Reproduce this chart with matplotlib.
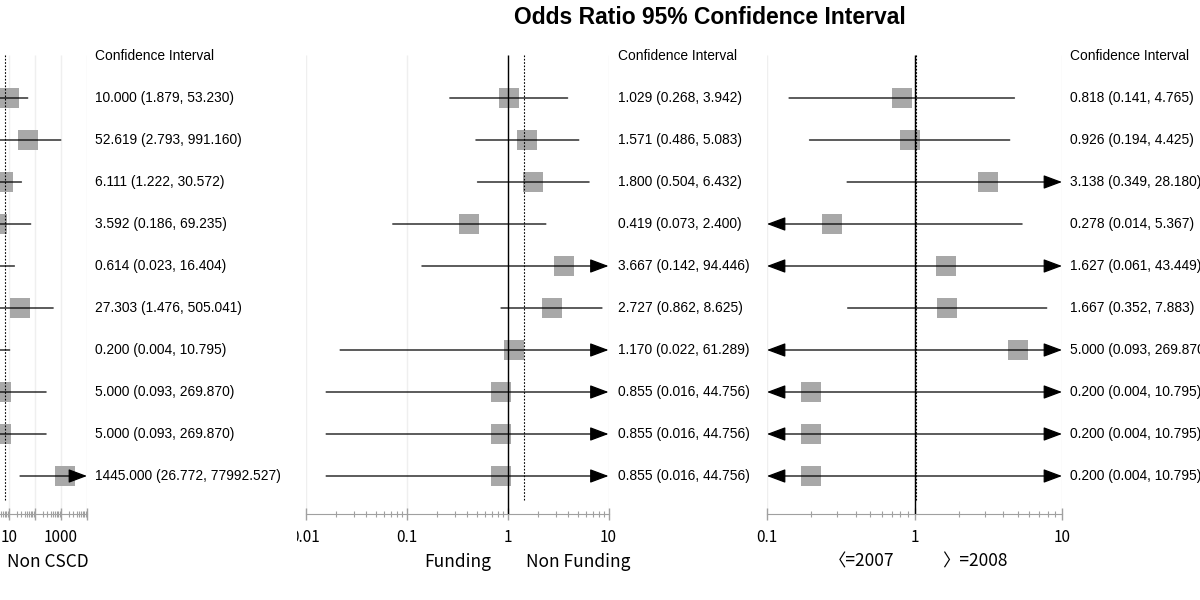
import matplotlib
matplotlib.use("Agg")
import numpy as np
import matplotlib.pyplot as plt
import matplotlib.transforms as mtransforms
from matplotlib.ticker import LogLocator
from matplotlib.transforms import Bbox

# ---- data (odds ratio, lower, upper) per panel ----
or_cscd = [10.000, 52.619, 6.111, 3.592, 0.614, 27.303, 0.200, 5.000, 5.000, 1445.000]
lo_cscd = [1.879, 2.793, 1.222, 0.186, 0.023, 1.476, 0.004, 0.093, 0.093, 26.772]
hi_cscd = [53.230, 991.160, 30.572, 69.235, 16.404, 505.041, 10.795, 269.870, 269.870, 77992.527]

or_fund = [1.029, 1.571, 1.800, 0.419, 3.667, 2.727, 1.170, 0.855, 0.855, 0.855]
lo_fund = [0.268, 0.486, 0.504, 0.073, 0.142, 0.862, 0.022, 0.016, 0.016, 0.016]
hi_fund = [3.942, 5.083, 6.432, 2.400, 94.446, 8.625, 61.289, 44.756, 44.756, 44.756]

or_year = [0.818, 0.926, 3.138, 0.278, 1.627, 1.667, 5.000, 0.200, 0.200, 0.200]
lo_year = [0.141, 0.194, 0.349, 0.014, 0.061, 0.352, 0.093, 0.004, 0.004, 0.004]
hi_year = [4.765, 4.425, 28.180, 5.367, 43.449, 7.883, 269.870, 10.795, 10.795, 10.795]

pooled = [7.0, 1.47, 1.03]          # dotted summary lines
xlims = [(1e-7, 1e4), (0.01, 10), (0.1, 10)]
tick_vals = [[10.0 ** k for k in range(-7, 5)], [0.01, 0.1, 1, 10], [0.1, 1, 10]]
tick_labels = [["", "", "", "", "", "", "", "", "10", "", "1000", ""],
               ["0.01", "0.1", "1", "10"],
               ["0.1", "1", "10"]]
group_labels = [("Non CSCD",), ("Funding", "Non Funding"), ("〈=2007", "〉=2008")]

# ---- layout (pixels on a 1200x600 canvas) ----
W, H = 1200, 600
panel_px = [(-199.5, 87), (305.5, 608.5), (767, 1062)]
text_px = [95, 618, 1070]
group_px = [(48,), (458, 578), (862, 975)]
row0, step = 98, 42
top_px, axis_px = 40, 514

plt.rcParams["font.family"] = ["Liberation Sans", "DejaVu Sans"]
lab_font = ["Noto Sans CJK SC", "DejaVu Sans"]

fig = plt.figure(figsize=(12, 6), dpi=100)
fig.text(710 / W, 1 - 17 / H, "Odds Ratio 95% Confidence Interval", ha="center", va="center",
         fontsize=16.5, fontweight="bold")

panels = [(or_cscd, lo_cscd, hi_cscd), (or_fund, lo_fund, hi_fund), (or_year, lo_year, hi_year)]
n = len(or_cscd)
y_top = (top_px - row0) / step
y_bot = (axis_px - row0) / step

for i, (ors, los, his) in enumerate(panels):
    x0, x1 = panel_px[i]
    ax = fig.add_axes([x0 / W, 1 - axis_px / H, (x1 - x0) / W, (axis_px - top_px) / H])
    ax.set_xscale("log")
    ax.set_xlim(*xlims[i])
    ax.set_ylim(y_bot, y_top)
    ax.patch.set_alpha(0)
    for s in ["top", "left", "right"]:
        ax.spines[s].set_visible(False)
    ax.spines["bottom"].set_color("#a0a0a0")
    ax.set_yticks([])

    ax.set_xticks(tick_vals[i])
    ax.set_xticklabels(tick_labels[i], family=lab_font, fontsize=11)
    ax.xaxis.set_minor_locator(LogLocator(base=10, subs=np.arange(2, 10), numticks=100))
    ax.xaxis.set_minor_formatter(plt.NullFormatter())
    ax.tick_params(axis="x", which="major", direction="inout", length=9, width=1,
                   color="#a0a0a0", pad=6)
    ax.tick_params(axis="x", which="minor", direction="inout", length=4.5, width=0.8,
                   color="#a0a0a0")

    # faint grid at decades, reference lines
    lo_lim, hi_lim = xlims[i]
    for t in tick_vals[i]:
        ax.vlines(t, -1.03, y_bot - 0.1, color="#efefef", lw=1, zorder=0)
    ax.vlines(1, -1.03, y_bot, color="black", lw=1, zorder=3)
    ax.vlines(pooled[i], -1.03, 9.6, color="black", lw=0.8, linestyles=(0, (1.5, 1.5)), zorder=3)

    rows = list(range(n))
    ax.scatter(ors, rows, marker="s", s=207, color="#a8a8a8", linewidths=0, zorder=2, clip_on=False)
    for r in rows:
        a = max(los[r], lo_lim)
        b = min(his[r], hi_lim)
        style = {(False, False): "-", (False, True): "-|>", (True, False): "<|-",
                 (True, True): "<|-|>"}[(los[r] < lo_lim, his[r] > hi_lim)]
        if style != "-":
            style += ",head_length=1.15,head_width=0.43"
        ax.annotate("", xy=(b, r), xytext=(a, r),
                    arrowprops=dict(arrowstyle=style, mutation_scale=10, shrinkA=0, shrinkB=0,
                                    lw=0.9, color="black"), zorder=4)

    # confidence interval column
    tr = mtransforms.blended_transform_factory(fig.transFigure, ax.transData)
    ax.text(text_px[i] / W, -1, "Confidence Interval", transform=tr, ha="left", va="center",
            fontsize=9.9, clip_on=False)
    for r in rows:
        ax.text(text_px[i] / W, r, f"{ors[r]:.3f} ({los[r]:.3f}, {his[r]:.3f})", transform=tr,
                ha="left", va="center", fontsize=9.9, clip_on=False)

    for gx, gl in zip(group_px[i], group_labels[i]):
        fig.text(gx / W, 1 - 562 / H, gl, ha="center", va="center", fontsize=12.5, family=lab_font)

    if i == 1:
        fig.canvas.draw()
        for lab in ax.get_xticklabels():
            if lab.get_text() == "0.01":
                lab.set_clip_box(Bbox.from_extents(297, 0, W, H))
                lab.set_clip_on(True)

fig.savefig("out.png", dpi=100)
